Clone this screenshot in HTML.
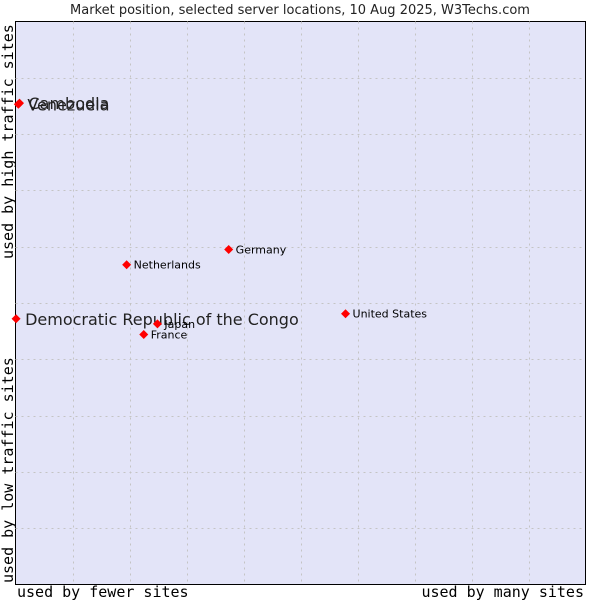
<!DOCTYPE html>
<html><head><meta charset="utf-8"><style>
body{margin:0;background:#fff;width:600px;height:600px;overflow:hidden}
svg{font-family:"DejaVu Sans","Liberation Sans",sans-serif}
</style></head><body>
<svg width="600" height="600">
<text x="300" y="14" text-anchor="middle" font-size="13" fill="#222">Market position, selected server locations, 10 Aug 2025, W3Techs.com</text>
<rect x="15.5" y="21.5" width="570" height="563" fill="#e3e4f8" stroke="#000"/>
<g id="grid"></g>
<text x="17" y="597" font-size="15" font-family="DejaVu Sans Mono,Liberation Mono,monospace">used by fewer sites</text>
<text x="584" y="597" text-anchor="end" font-size="15" font-family="DejaVu Sans Mono,Liberation Mono,monospace">used by many sites</text>
<text transform="translate(13,583) rotate(-90)" font-size="15" font-family="DejaVu Sans Mono,Liberation Mono,monospace">used by low traffic sites</text>
<text transform="translate(13,259) rotate(-90)" font-size="15" font-family="DejaVu Sans Mono,Liberation Mono,monospace">used by high traffic sites</text>
<g id="points"></g>
</svg>
<script>
const names=["Cambodia","Venezuela","Democratic Republic of the Congo","Japan","France","Netherlands","Germany","United States"];
const xs=[0.7,0.5,0.1,24.9,22.5,19.5,37.4,57.9];
const ys=[85.5,85.3,47.2,46.3,44.4,56.8,59.5,48.1];
const big=[true,true,true,false,false,false,false,false];
const L=15.5,R=585.5,T=21.5,B=584.5;
const sx=v=>L+v/100*(R-L), sy=v=>B-v/100*(B-T);
const ns="http://www.w3.org/2000/svg";
const g=document.getElementById('grid');
for(let i=1;i<10;i++){
  const v=document.createElementNS(ns,'line');
  
  
  const x=Math.round(sx(i*10))+0.5;
  v.setAttribute('x1',x);v.setAttribute('x2',x);v.setAttribute('y1',T);v.setAttribute('y2',B);
  v.setAttribute('stroke','#c4c4c4');v.setAttribute('stroke-dasharray','2,4');g.appendChild(v);
  const h=document.createElementNS(ns,'line');
  
  
  const y=Math.round(sy(i*10))+0.5;
  h.setAttribute('x1',L);h.setAttribute('x2',R);h.setAttribute('y1',y);h.setAttribute('y2',y);
  h.setAttribute('stroke','#c4c4c4');h.setAttribute('stroke-dasharray','2,4');g.appendChild(h);
}
const p=document.getElementById('points');
names.forEach((n,i)=>{
  const x=sx(xs[i]),y=sy(ys[i]);
  const d=document.createElementNS(ns,'path');
  
  
  d.setAttribute('d',`M${x-4.5},${y}L${x},${y-4.5}L${x+4.5},${y}L${x},${y+4.5}Z`);
  d.setAttribute('fill','#f00');p.appendChild(d);
  const t=document.createElementNS(ns,'text');
  
  
  t.setAttribute('x',x+(big[i]?9:7));t.setAttribute('y',y+(big[i]?6:4));
  t.setAttribute('font-size',big[i]?16:11);t.setAttribute('fill',big[i]?'#222':'#000');
  t.textContent=n;p.appendChild(t);
});
</script>
</body></html>
